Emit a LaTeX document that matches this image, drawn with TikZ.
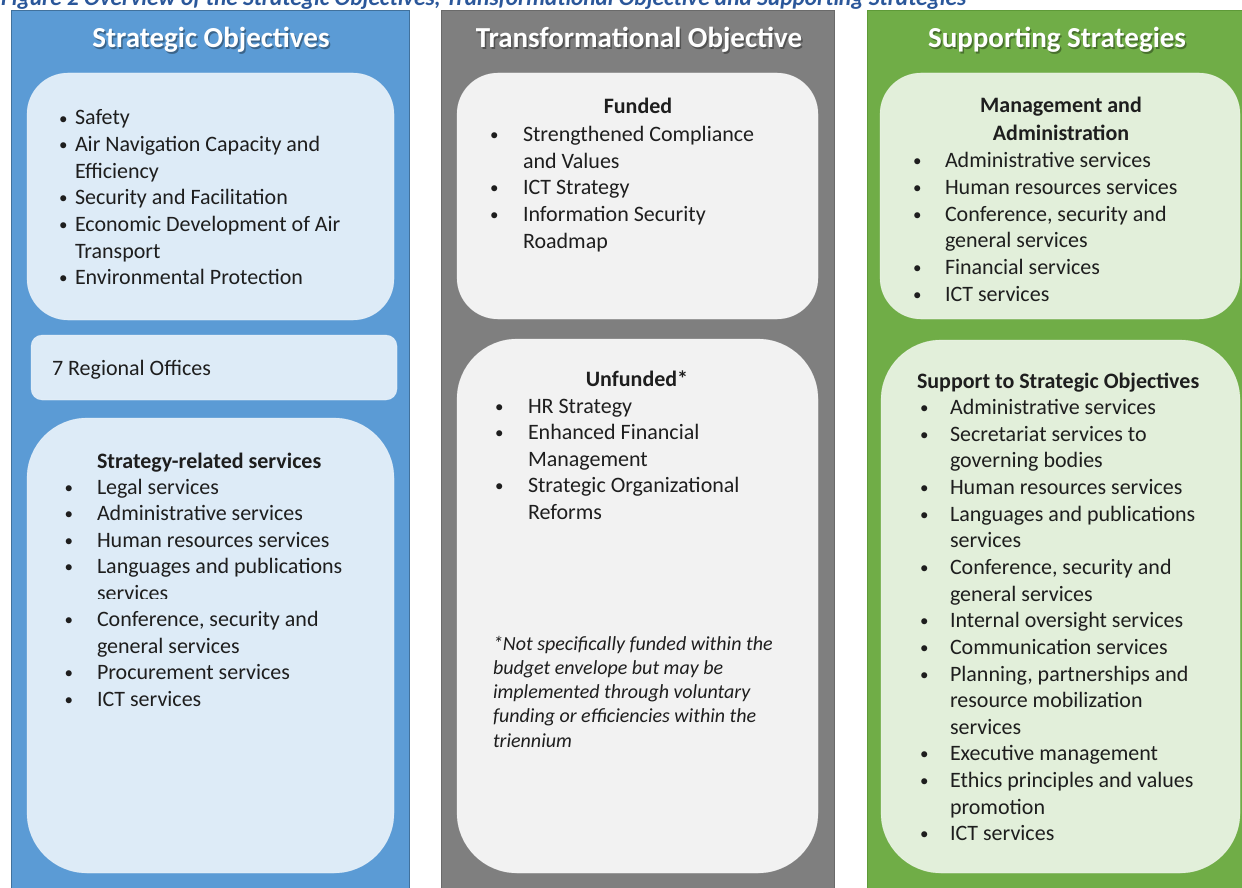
\documentclass[tikz,border=0pt]{standalone}
\usepackage{fontspec}
\setmainfont{Carlito}
\definecolor{colblue}{HTML}{5B9BD5}
\definecolor{colblueedge}{HTML}{41719C}
\definecolor{boxblue}{HTML}{DDEBF7}
\definecolor{colgray}{HTML}{7F7F7F}
\definecolor{colgrayedge}{HTML}{6A6A6A}
\definecolor{boxgray}{HTML}{F2F2F2}
\definecolor{colgreen}{HTML}{70AD47}
\definecolor{colgreenedge}{HTML}{5E9A38}
\definecolor{boxgreen}{HTML}{E2EFDA}
\definecolor{bodytext}{HTML}{1E1E1E}
\definecolor{captionblue}{HTML}{2B579A}
\newlength\bw
\newcommand\bitem{\makebox[\bw][l]{\raisebox{1pt}{\fontsize{17}{17}\selectfont\textbullet}}}
\newcommand\bcont{\hspace*{\bw}}
% one text line per entry, baselines a fixed step apart
\newcommand\textlines[5]{%
  \foreach \t [count=\i from 0] in {#5}
    \node[txt, anchor=base west] (#1-\i) at (#2, {#3+\i*#4}) {\t};}
\begin{document}
\begin{tikzpicture}[x=1pt, y=-1pt,
  txt/.style={inner sep=0pt, outer sep=0pt, text=bodytext,
    font=\fontsize{22}{26.6}\selectfont},
  head/.style={txt, font=\fontsize{22}{26.6}\selectfont\bfseries},
  note/.style={txt, font=\fontsize{20}{24.3}\selectfont\itshape},
  column/.style={fill=#1, draw=#1edge, line width=0.8pt},
  colhead/.style={inner sep=0pt, text=white, font=\fontsize{29}{34}\selectfont\bfseries},
  colshadow/.style={inner sep=0pt, text=black, opacity=0.35, font=\fontsize{29}{34}\selectfont\bfseries},
  panel/.style={fill=#1, draw=white, draw opacity=0.35, line width=0.6pt}
]
\useasboundingbox (0,0) rectangle (1242,888);

% caption, running off the top edge
\node[inner sep=0pt, anchor=base west, text=captionblue,
  font=\fontsize{23.3}{28}\selectfont\bfseries\itshape] (caption) at (1,5.5)
  {Figure 2 Overview of the Strategic Objectives, Transformational Objective and Supporting Strategies};

% three columns
\path[column=colblue] (11,10) rectangle (409,892);
\path[column=colgray] (441,10) rectangle (834,892);
\path[column=colgreen] (867,10) rectangle (1246,892);

% column headings with a soft drop shadow
\foreach \n/\x/\s in {hso/211/Strategic Objectives, hto/639/Transformational Objective, hss/1057/Supporting Strategies}{
  \node[colshadow, anchor=base] (\n-shadow) at (\x+1.5,49.5) {\s};
  \node[colhead, anchor=base] (\n) at (\x,48) {\s};
}

% panels
\path[panel=boxblue, rounded corners=41pt] (27,73) rectangle (394,320);
\path[panel=boxblue, rounded corners=11pt] (31,335) rectangle (397,400);
\path[panel=boxblue, rounded corners=60pt] (27,418) rectangle (394,873);
\path[panel=boxgray, rounded corners=41pt] (457,73) rectangle (818,319);
\path[panel=boxgray, rounded corners=60pt] (457,339) rectangle (818,873);
\path[panel=boxgreen, rounded corners=41pt] (880,73) rectangle (1240,319);
\path[panel=boxgreen, rounded corners=60pt] (881,340) rectangle (1240,873);

% strategic objectives
\setlength\bw{16pt}
\textlines{so}{59}{125}{26.65}{{\bitem Safety}, {\bitem Air Navigation Capacity and},
  {\bcont Efficiency}, {\bitem Security and Facilitation},
  {\bitem Economic Development of Air}, {\bcont Transport},
  {\bitem Environmental Protection}}
\node[txt, anchor=base west] (ro) at (52,375) {7 Regional Offices};

\node[head, anchor=base west] (srs) at (97,468) {Strategy-related services};
\setlength\bw{32.5pt}
\textlines{srsa}{64.5}{494}{26.5}{{\bitem Legal services}, {\bitem Administrative services},
  {\bitem Human resources services}, {\bitem Languages and publications}}
\begin{scope}
  \clip (27,560) rectangle (394,598.5);
  \node[txt, anchor=base west] (srs-cut) at (64.5,600) {\bcont services};
\end{scope}
\textlines{srsb}{64.5}{626.5}{26.5}{{\bitem Conference, security and}, {\bcont general services},
  {\bitem Procurement services}, {\bitem ICT services}}

% transformational objective
\node[head, anchor=base] (fu) at (638,114) {Funded};
\setlength\bw{33pt}
\textlines{fua}{490}{141.5}{26.65}{{\bitem Strengthened Compliance}, {\bcont and Values},
  {\bitem ICT Strategy}, {\bitem Information Security}, {\bcont Roadmap}}
\node[head, anchor=base] (un) at (637,386) {Unfunded*};
\textlines{una}{495}{413}{26.65}{{\bitem HR Strategy}, {\bitem Enhanced Financial},
  {\bcont Management}, {\bitem Strategic Organizational}, {\bcont Reforms}}
\foreach \t [count=\i from 0] in {{*Not specifically funded within the},
  {budget envelope but may be}, {implemented through voluntary},
  {funding or efficiencies within the}, {triennium}}
  \node[note, anchor=base west] (fn-\i) at (493, {650+\i*24.3}) {\t};

% supporting strategies
\node[head, anchor=base] (ma1) at (1061,113) {Management and};
\node[head, anchor=base] (ma2) at (1061,140) {Administration};
\setlength\bw{32pt}
\textlines{maa}{913}{167.5}{26.75}{{\bitem Administrative services}, {\bitem Human resources services},
  {\bitem Conference, security and}, {\bcont general services},
  {\bitem Financial services}, {\bitem ICT services}}
\node[head, anchor=base west] (sso) at (917,388) {Support to Strategic Objectives};
\setlength\bw{30pt}
\textlines{ssoa}{920}{414.5}{26.65}{{\bitem Administrative services}, {\bitem Secretariat services to},
  {\bcont governing bodies}, {\bitem Human resources services},
  {\bitem Languages and publications}, {\bcont services},
  {\bitem Conference, security and}, {\bcont general services},
  {\bitem Internal oversight services}, {\bitem Communication services},
  {\bitem Planning, partnerships and}, {\bcont resource mobilization},
  {\bcont services}, {\bitem Executive management},
  {\bitem Ethics principles and values}, {\bcont promotion},
  {\bitem ICT services}}
\end{tikzpicture}
\end{document}
